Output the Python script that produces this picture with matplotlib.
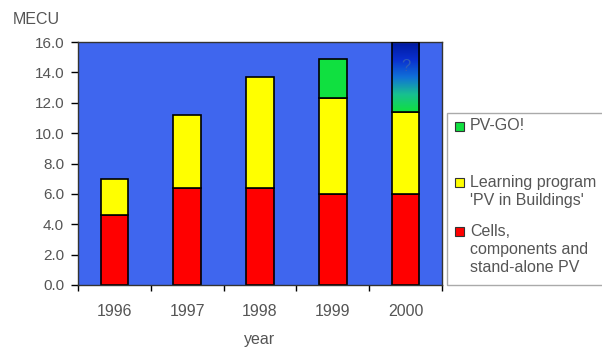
import numpy as np
import matplotlib.pyplot as plt
from matplotlib.patches import Rectangle
from matplotlib.colors import LinearSegmentedColormap

plt.rcParams['font.family'] = ['Liberation Sans', 'DejaVu Sans']

years = ['1996', '1997', '1998', '1999', '2000']
cells = [4.6, 6.4, 6.4, 6.0, 6.0]
learning = [2.4, 4.8, 7.3, 6.3, 5.4]
pvgo = [0.0, 0.0, 0.0, 2.6, 0.0]
unknown = [0.0, 0.0, 0.0, 0.0, 4.6]   # the '?' part of 2000

BLUE_BG = '#3f66ee'
RED = '#ff0000'
YELLOW = '#ffff00'
GREEN = '#10e040'
TXT = '#555555'

fig = plt.figure(figsize=(6.02, 3.47), dpi=100)
ax = fig.add_axes([78 / 602, 1 - 285 / 347, 364 / 602, 243 / 347])
ax.set_facecolor(BLUE_BG)

x = np.arange(len(years))
w = 0.38
cells = np.array(cells)
learning = np.array(learning)
pvgo = np.array(pvgo)
unknown = np.array(unknown)

ax.bar(x, cells, w, color=RED, edgecolor='black', lw=1.2, zorder=2)
ax.bar(x, learning, w, bottom=cells, color=YELLOW, edgecolor='black', lw=1.2, zorder=2)
has_go = pvgo > 0
ax.bar(x[has_go], pvgo[has_go], w, bottom=(cells + learning)[has_go],
       color=GREEN, edgecolor='black', lw=1.2, zorder=2)

# gradient segment for 2000 (green -> dark blue)
cmap = LinearSegmentedColormap.from_list('g2b', [GREEN, '#18c090', '#1070d8', '#0a30d0', '#001aa0'])
for i in np.where(unknown > 0)[0]:
    b = cells[i] + learning[i]
    grad = np.linspace(0, 1, 100).reshape(-1, 1)
    ax.imshow(grad, cmap=cmap, origin='lower', aspect='auto',
              extent=(x[i] - w / 2, x[i] + w / 2, b, b + unknown[i]), zorder=2)
    ax.bar(x[i], unknown[i], w, bottom=b, facecolor='none', edgecolor='black', lw=1.2, zorder=3)
    ax.text(x[i], b + unknown[i] * 0.65, '?', ha='center', va='center',
            color='#2f5cb8', fontsize=12, zorder=4)

ax.set_xlim(-0.5, len(years) - 0.5)
ax.set_ylim(0, 16)
ax.set_yticks(np.arange(0, 16.1, 2))
ax.set_yticklabels([f'{v:.1f}' for v in np.arange(0, 16.1, 2)])
ax.set_xticks(x)
ax.set_xticklabels(years)
ax.set_xticks(np.arange(-0.5, len(years)), minor=True)
ax.tick_params(axis='x', which='major', length=0, pad=14, labelsize=11.5, labelcolor=TXT)
ax.tick_params(axis='x', which='minor', length=4, width=1, direction='out')
ax.tick_params(axis='y', length=5, width=1, direction='out', labelsize=11, labelcolor=TXT, pad=5)
for s in ax.spines.values():
    s.set_color('#333333')
    s.set_linewidth(1)
ax.set_xlabel('year', color=TXT, fontsize=11.5, labelpad=9)
fig.text(13 / 602, 1 - 19 / 347, 'MECU', color=TXT, fontsize=11.5, va='center')

# legend box drawn by hand, Excel style, running off the right edge
H = 347.0
fig.patches.append(Rectangle((447 / 602, 1 - 285 / H), 170 / 602, 172 / H,
                             transform=fig.transFigure, facecolor='white',
                             edgecolor='#aaaaaa', lw=1))
entries = [(GREEN, ['PV-GO!'], 126),
           (YELLOW, ['Learning program', "'PV in Buildings'"], 182),
           (RED, ['Cells,', 'components and', 'stand-alone PV'], 231)]
for col, lines, yc in entries:
    fig.patches.append(Rectangle((455 / 602, 1 - (yc + 4.5) / H), 9 / 602, 9 / H,
                                 transform=fig.transFigure, facecolor=col,
                                 edgecolor='#333333', lw=0.8))
    for k, line in enumerate(lines):
        fig.text(470 / 602, 1 - (yc + 18.5 * k) / H, line, color=TXT,
                 fontsize=11.5, va='center', ha='left')

fig.savefig('out.png', dpi=100)
